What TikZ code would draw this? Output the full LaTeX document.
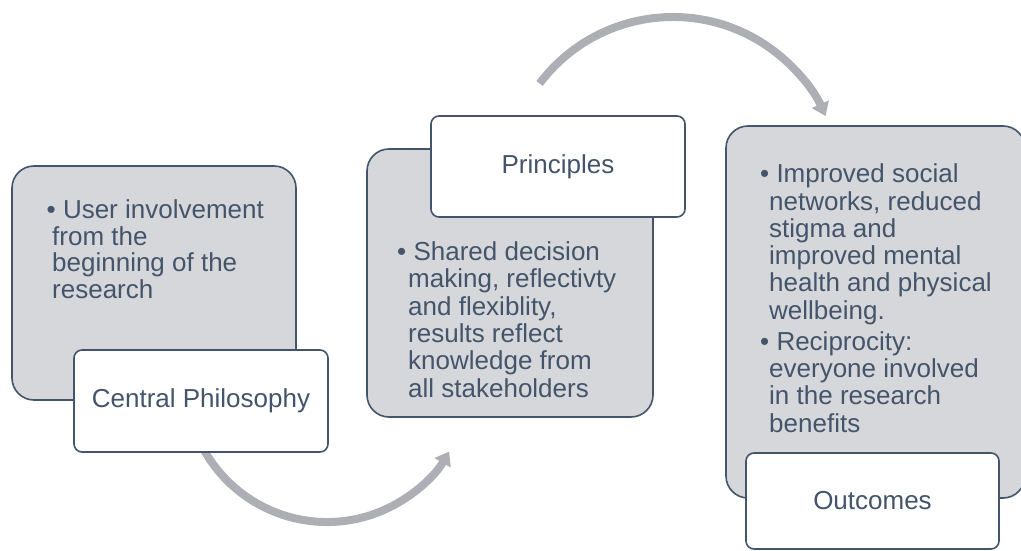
\documentclass[tikz,border=0pt]{standalone}
\usepackage{fontspec}
\setmainfont{Liberation Sans}
\usetikzlibrary{arrows.meta,calc}
\definecolor{slate}{HTML}{44546A}
\definecolor{panel}{HTML}{D5D7DA}
\definecolor{flowgrey}{HTML}{ADAFB5}
\tikzset{
  panelbox/.style={draw=slate, line width=1.6pt, fill=panel, rounded corners=22pt,
    rectangle, inner sep=0pt},
  labelbox/.style={draw=slate, line width=1.6pt, fill=white, rounded corners=8pt,
    rectangle, inner sep=0pt, text=slate, font=\fontsize{26}{30}\selectfont},
  % anchored at the baseline of the last line
  bodytext/.style={anchor=base west, inner sep=0pt, align=left, text=slate,
    font=\fontsize{26}{27.3}\selectfont},
  flow/.style={draw=flowgrey, line width=8pt, -{Triangle[width=18pt,length=13pt]}}
}
\begin{document}
\begin{tikzpicture}[x=1pt,y=1pt]
\useasboundingbox (0,0) rectangle (1021,550);
\clip (0,0) rectangle (1021,550);

% connector from the first stage down and round to the second
\coordinate (c1) at ($(327,169)+(205:141)$);
\draw[flow] (c1) arc[start angle=205, end angle=330, radius=141];

% stage 1: central philosophy
\node[panelbox, minimum width=284pt, minimum height=234pt] (p1) at (154,267) {};
\node[bodytext, font=\fontsize{26}{26.5}\selectfont] (b1) at (46.5,252)
  {\textbullet{} User involvement\\
   \hspace*{5.5pt}from the\\
   \hspace*{5.5pt}beginning of the\\
   \hspace*{5.5pt}research};
\node[labelbox, minimum width=254pt, minimum height=102pt] (l1) at (201,149) {Central Philosophy};

% stage 2: principles
\node[panelbox, minimum width=286pt, minimum height=268pt] (p2) at (510,267) {};
\node[bodytext] (b2) at (397,153)
  {\textbullet{} Shared decision\\
   \hspace*{11pt}making, reflectivty\\
   \hspace*{11pt}and flexiblity,\\
   \hspace*{11pt}results reflect\\
   \hspace*{11pt}knowledge from\\
   \hspace*{11pt}all stakeholders};
\node[labelbox, minimum width=254pt, minimum height=101pt] (l2) at (558,383.5) {Principles};

% connector over the top from the second stage to the third
\coordinate (c2) at ($(673,366)+(143:167)$);
\draw[flow] (c2) arc[start angle=143, end angle=24, radius=167];

% stage 3: outcomes
\node[panelbox, minimum width=299pt, minimum height=372pt] (p3) at (875.5,238) {};
\node[bodytext] (b3) at (760,118)
  {\textbullet{} Improved social\\
   \hspace*{9pt}networks, reduced\\
   \hspace*{9pt}stigma and\\
   \hspace*{9pt}improved mental\\
   \hspace*{9pt}health and physical\\
   \hspace*{9pt}wellbeing.\\[3.6pt]
   \textbullet{} Reciprocity:\\
   \hspace*{9pt}everyone involved\\
   \hspace*{9pt}in the research\\
   \hspace*{9pt}benefits};
\node[labelbox, minimum width=253pt, minimum height=96pt] (l3) at (872.5,49) {Outcomes};
\end{tikzpicture}
\end{document}
